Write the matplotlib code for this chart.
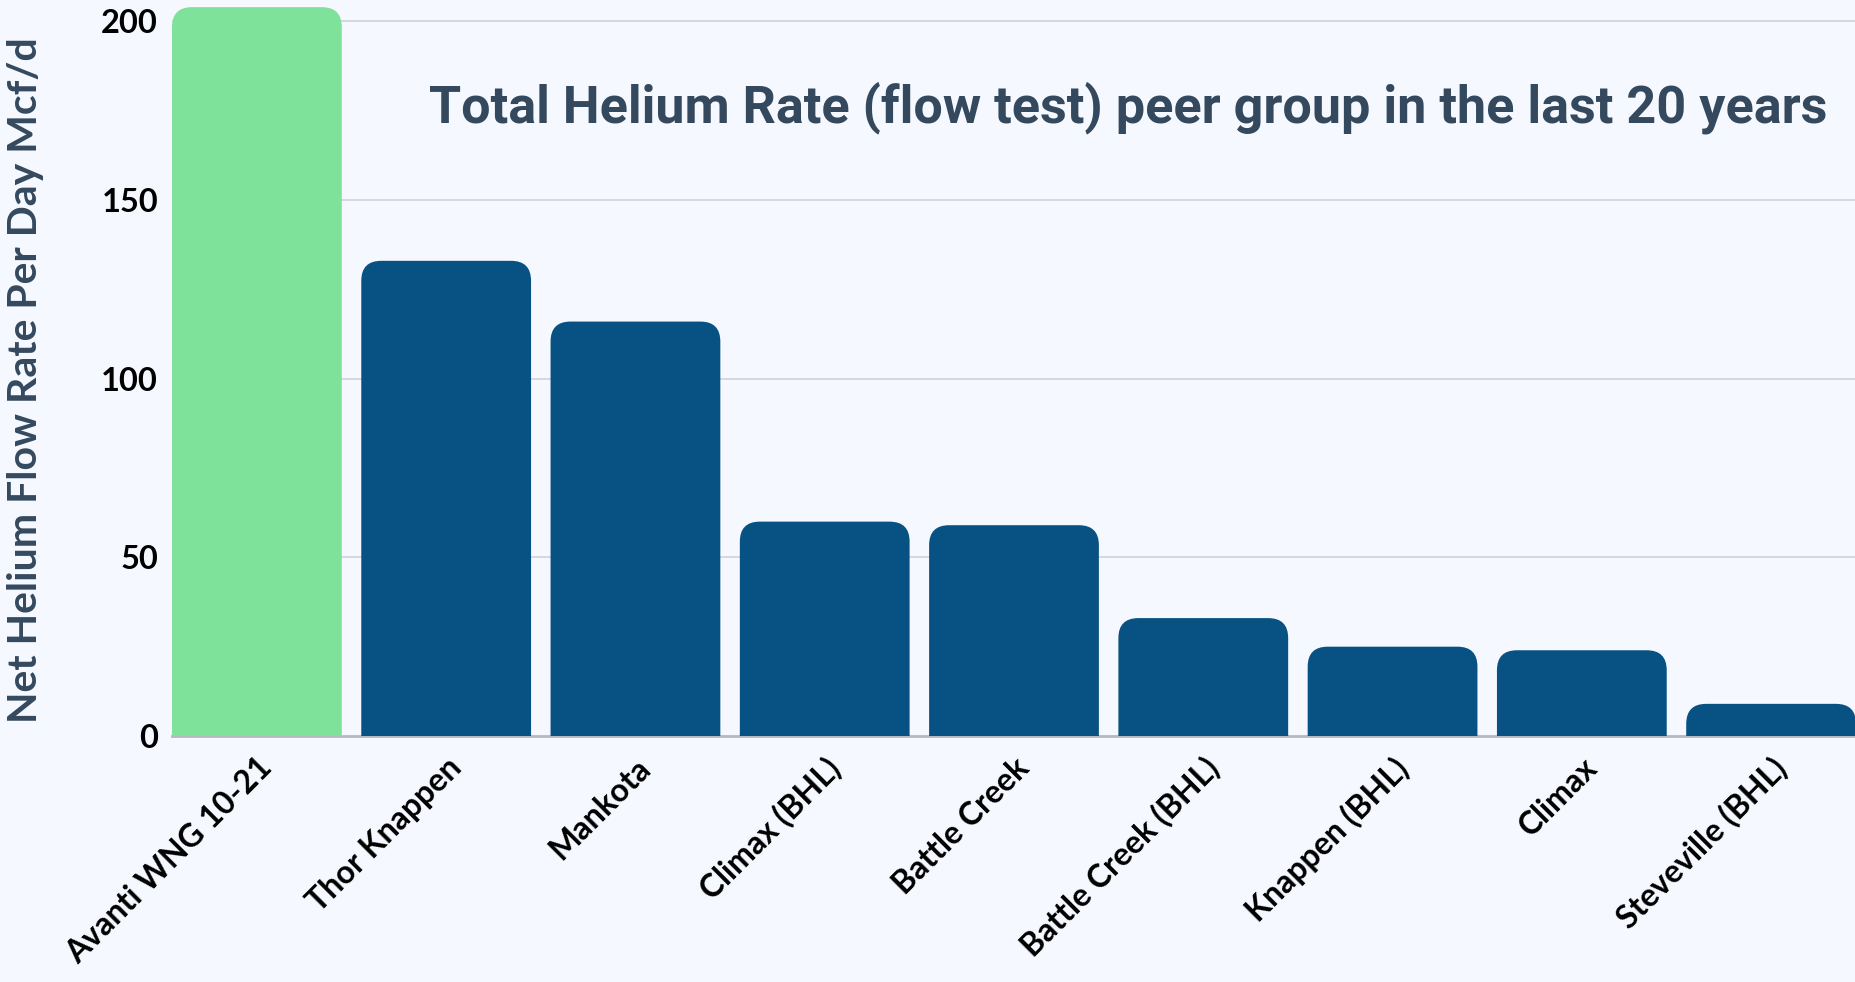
import matplotlib.pyplot as plt
from matplotlib.patches import FancyBboxPatch

# data
wells = ['Avanti WNG 10-21', 'Thor Knappen', 'Mankota', 'Climax (BHL)', 'Battle Creek',
         'Battle Creek (BHL)', 'Knappen (BHL)', 'Climax', 'Steveville (BHL)']
rates = [204, 133, 116, 60, 59, 33, 25, 24, 9]
yticks = [0, 50, 100, 150, 200]

bg = '#f5f8fe'
colors = ['#7ee29a'] + ['#085283'] * (len(wells) - 1)

fig = plt.figure(figsize=(18.56, 9.82), dpi=100, facecolor=bg)
ax = fig.add_axes([172 / 1856, 1 - 736 / 982, 1 - 172 / 1856, 736 / 982])
ax.set_facecolor(bg)

bar_w = 0.897
ax.set_xlim(-bar_w / 2, len(wells) - 1 + bar_w / 2)
ax.set_ylim(0, 206)

# rounded top corners: radius in pixels converted to data units
fig.canvas.draw()
bbox = ax.get_window_extent()
px_x = bbox.width / (ax.get_xlim()[1] - ax.get_xlim()[0])
px_y = bbox.height / (ax.get_ylim()[1] - ax.get_ylim()[0])
r_px = 20
rx, ry = r_px / px_x, r_px / px_y

for i, (name, val) in enumerate(zip(wells, rates)):
    p = FancyBboxPatch((i - bar_w / 2, -ry), bar_w, val + ry,
                       boxstyle=f'round,pad=0,rounding_size={rx}',
                       mutation_aspect=ry / rx, facecolor=colors[i],
                       edgecolor='none', zorder=3)
    ax.add_patch(p)

for t in yticks[1:]:
    ax.axhline(t, color='#cfd3d9', lw=1.2, zorder=1)
ax.axhline(0, color='#b5b9bf', lw=2, zorder=2, clip_on=False)

for s in ax.spines.values():
    s.set_visible(False)

ax.set_yticks(yticks)
ax.set_yticklabels([str(t) for t in yticks], fontsize=23.5, family='Lato', fontweight='bold')
ax.tick_params(axis='y', length=0, pad=10)
ax.set_xticks(range(len(wells)))
ax.set_xticklabels(wells, rotation=45, ha='right', rotation_mode='anchor',
                   fontsize=23, family='Lato', fontweight='bold')
ax.tick_params(axis='x', length=0, pad=12)

fig.text(26 / 1856, 1 - 380 / 982, 'Net Helium Flow Rate Per Day Mcf/d', rotation=90,
         ha='center', va='center', fontsize=29.5, family='Lato', fontweight='bold', color='#34495e')

fig.text(1827 / 1856, 1 - 108 / 982, 'Total Helium Rate (flow test) peer group in the last 20 years',
         ha='right', va='center', fontsize=37.5, family='Roboto', fontweight='bold', color='#34495e')

fig.savefig('out.png', dpi=100, facecolor=bg)
